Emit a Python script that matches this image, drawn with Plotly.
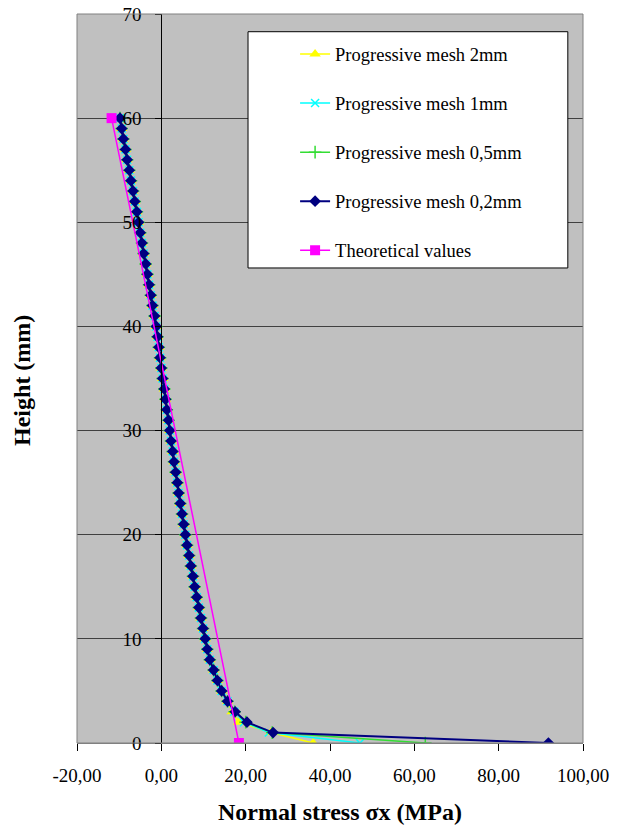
import plotly.graph_objects as go

# ---------------- data ----------------
heights = list(range(0, 61))  # mm

# stresses (MPa) for heights 4..60, where all progressive meshes coincide
upper_4_60 = [15.7, 14.3, 13.3, 12.4, 11.5, 10.9, 10.4, 9.9, 9.4, 8.9,
              8.4, 7.9, 7.5, 7.0, 6.6, 6.1, 5.7, 5.3, 4.9, 4.5,
              4.1, 3.8, 3.4, 3.0, 2.7, 2.3, 2.0, 1.7, 1.3, 1.0,
              0.7, 0.3, 0.0, -0.3, -0.6, -0.9, -1.2, -1.6, -2.1, -2.5,
              -2.9, -3.3, -3.7, -4.2, -4.6, -5.0, -5.4, -5.8, -6.3, -6.7,
              -7.2, -7.6, -8.1, -8.5, -9.0, -9.4, -9.8]

# stresses at heights 0,1,2,3 for each mesh
bottom_2mm = [36.0, 26.0, 18.3, 16.8]
bottom_1mm = [47.1, 25.5, 19.6, 17.3]
bottom_05mm = [62.6, 26.3, 20.0, 17.4]
bottom_02mm = [91.8, 26.5, 20.3, 17.5]

mesh_2mm = bottom_2mm + upper_4_60
mesh_1mm = bottom_1mm + upper_4_60
mesh_05mm = bottom_05mm + upper_4_60
mesh_02mm = bottom_02mm + upper_4_60

theory_heights = [0, 60]
theory_stress = [18.4, -11.8]

x_tickvals = [-20, 0, 20, 40, 60, 80, 100]
x_ticktext = ["-20,00", "0,00", "20,00", "40,00", "60,00", "80,00", "100,00"]
y_tickvals = [0, 10, 20, 30, 40, 50, 60, 70]

series = [
    ("Progressive mesh 2mm", mesh_2mm, "#FFFF00", "triangle-up", 10, 1.5),
    ("Progressive mesh 1mm", mesh_1mm, "#00FFFF", "x-thin", 8, 1.5),
    ("Progressive mesh 0,5mm", mesh_05mm, "#33DD33", "cross-thin", 9, 1.5),
    ("Progressive mesh 0,2mm", mesh_02mm, "#000080", "diamond", 9, 2),
]

fig = go.Figure()
for i, (name, vals, col, sym, size, lw) in enumerate(series):
    thin = sym.endswith("thin")
    fig.add_trace(go.Scatter(
        x=vals, y=heights, name=name, mode="lines+markers",
        legendgroup="g%d" % i,
        line=dict(color=col, width=lw),
        marker=dict(symbol=sym, size=size, color=col,
                    line=dict(color=col, width=1.5 if thin else 0)),
    ))
fig.add_trace(go.Scatter(
    x=theory_stress, y=theory_heights, name="Theoretical values",
    mode="lines+markers", legendgroup="g4",
    line=dict(color="#FF00FF", width=1.5),
    marker=dict(symbol="square", size=10, color="#FF00FF"),
))

SERIF = "Liberation Serif, Times New Roman, serif"

fig.update_layout(
    width=622, height=836,
    margin=dict(l=77, r=39, t=14, b=93, autoexpand=False),
    paper_bgcolor="white", plot_bgcolor="#C0C0C0",
    font=dict(family=SERIF, size=19, color="black"),
    showlegend=True,
    legend=dict(x=0.431, y=0.9705, xanchor="left", yanchor="top",
                bgcolor="rgba(0,0,0,0)", borderwidth=0,
                tracegroupgap=22, font=dict(family=SERIF, size=18.5)),
    shapes=[
        dict(type="rect", xref="paper", yref="paper",
             x0=0.338, x1=0.970, y0=0.6516, y1=0.9757,
             fillcolor="white", line=dict(color="black", width=1),
             layer="above"),
        dict(type="rect", xref="paper", yref="paper",
             x0=0, x1=1, y0=0, y1=1,
             fillcolor="rgba(0,0,0,0)", line=dict(color="#808080", width=1),
             layer="above"),
    ],
    annotations=[
        dict(text="<b>Normal stress σx (MPa)</b>", xref="paper", yref="paper",
             x=0.52, y=-0.0947, xanchor="center", yanchor="middle",
             showarrow=False, font=dict(family=SERIF, size=24)),
        dict(text="<b>Height (mm)</b>", xref="paper", yref="paper",
             x=-0.1087, y=0.498, xanchor="center", yanchor="middle",
             textangle=-90, showarrow=False, font=dict(family=SERIF, size=24)),
    ],
)
fig.update_xaxes(range=[-20, 100], tickvals=x_tickvals, ticktext=x_ticktext,
                 showgrid=False, zeroline=False, showline=True,
                 linecolor="#808080", linewidth=1,
                 ticks="outside", ticklen=7, tickcolor="black",
                 ticklabelstandoff=8, ticklabeloverflow="allow")
fig.update_yaxes(range=[0, 70], tickvals=y_tickvals, anchor="free",
                 position=1 / 6, showgrid=True, gridcolor="#404040",
                 gridwidth=1, zeroline=False, showline=True,
                 linecolor="black", linewidth=1, ticks="outside",
                 ticklen=6, tickcolor="black", ticklabelstandoff=10,
                 ticklabeloverflow="allow")

fig.write_html("out.html", config={"displayModeBar": False},
               post_script="document.body.style.margin='0';")
